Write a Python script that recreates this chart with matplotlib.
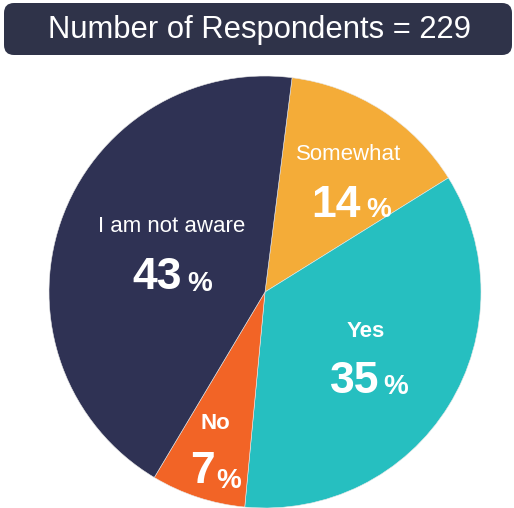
import numpy as np
import matplotlib.pyplot as plt
from matplotlib.patches import FancyBboxPatch

plt.rcParams['font.family'] = ['Liberation Sans', 'DejaVu Sans']

# data
labels = ["Somewhat", "Yes", "No", "I am not aware"]
values = [14, 35, 7, 43]
colors = ["#F4AC38", "#26BFC0", "#F26426", "#2F3254"]
bold_label = [False, True, True, False]
title = "Number of Respondents = 229"

# label layout in pixels (y measured from the top of the image)
name_x = [349, 366, 215, 172]
name_base = [160, 337, 429, 232]
num_cx = [336, 355, 202, 157]
num_base = [217, 393, 483, 289]
pct_left = [366, 383, 216, 187]
pct_base = [217, 394, 488, 291]

W, H = 514, 508
fig = plt.figure(figsize=(W / 100, H / 100), dpi=100)
ax = fig.add_axes([0, 0, 1, 1])

ax.pie(values, colors=colors, startangle=82.8, counterclock=False,
       center=(265, H - 292), radius=216,
       wedgeprops=dict(edgecolor="#e8e8e8", linewidth=0.4))
ax.set_xlim(0, W)
ax.set_ylim(0, H)
ax.set_aspect("equal")
ax.axis("off")

# title box
box = FancyBboxPatch((4, H - 55), 508, 52, boxstyle="round,pad=0,rounding_size=10",
                     facecolor="#2F3349", edgecolor="none")
ax.add_patch(box)
ax.text(259, H - 38, title, color="white", fontsize=22.3, ha="center", va="baseline")

for i in range(len(labels)):
    ax.text(name_x[i], H - name_base[i], labels[i], color="white", fontsize=16,
            fontweight="bold" if bold_label[i] else "normal",
            ha="center", va="baseline")
    ax.text(num_cx[i], H - num_base[i], str(values[i]), color="white", fontsize=32,
            fontweight="bold", ha="center", va="baseline")
    ax.text(pct_left[i], H - pct_base[i], "%", color="white", fontsize=20,
            fontweight="bold", ha="left", va="baseline")

fig.savefig("out.png", dpi=100)
